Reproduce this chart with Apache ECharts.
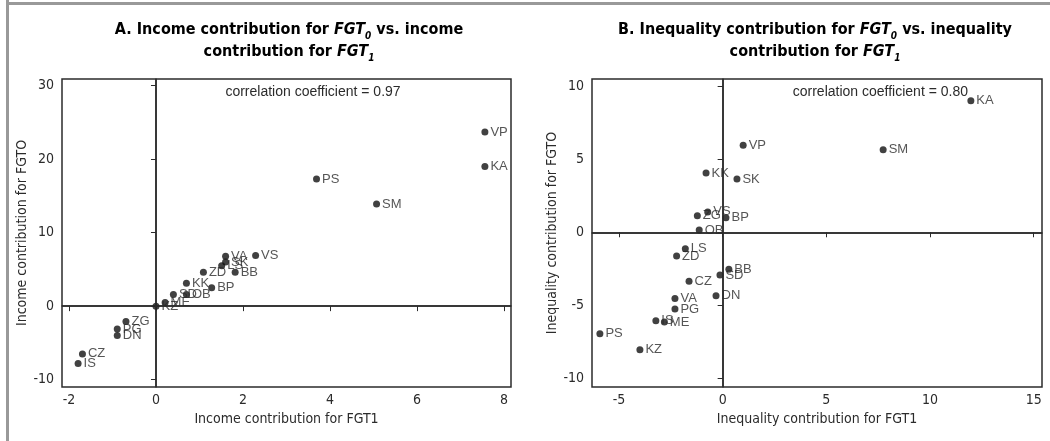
<!DOCTYPE html>
<html>
<head>
<meta charset="utf-8">
<script src="https://cdn.jsdelivr.net/npm/echarts@6/dist/echarts.min.js"></script>
<style>
  html, body { margin: 0; padding: 0; background: #fff; }
  #chart { width: 1050px; height: 441px; }
</style>
</head>
<body>
<div id="chart"></div>
<script>
// panel A: income contribution
var namesA = ['VP', 'KA', 'PS', 'SM', 'VS', 'VA', 'SK', 'LS', 'ZD', 'BB', 'KK', 'BP', 'SD', 'OB', 'ME', 'KZ', 'ZG', 'PG', 'DN', 'CZ', 'IS'];
var xA = [7.56, 7.56, 3.69, 5.07, 2.29, 1.6, 1.6, 1.51, 1.09, 1.82, 0.7, 1.28, 0.4, 0.7, 0.21, 0, -0.69, -0.89, -0.89, -1.69, -1.79];
var yA = [23.7, 19.0, 17.3, 13.9, 6.9, 6.8, 6.0, 5.5, 4.6, 4.6, 3.1, 2.5, 1.6, 1.6, 0.5, 0, -2.1, -3.1, -4.0, -6.5, -7.8];

// panel B: inequality contribution
var namesB = ['KA', 'SM', 'VP', 'KK', 'SK', 'VS', 'ZG', 'BP', 'OB', 'LS', 'ZD', 'BB', 'SD', 'CZ', 'DN', 'VA', 'PG', 'IS', 'ME', 'PS', 'KZ'];
var xB = [11.97, 7.74, 0.99, -0.8, 0.69, -0.72, -1.22, 0.16, -1.13, -1.8, -2.22, 0.3, -0.13, -1.62, -0.32, -2.3, -2.3, -3.22, -2.81, -5.92, -3.99];
var yB = [8.99, 5.64, 5.94, 4.05, 3.64, 1.39, 1.13, 1.0, 0.16, -1.12, -1.62, -2.53, -2.92, -3.35, -4.33, -4.53, -5.24, -6.04, -6.13, -6.93, -8.02];

var ticksAx = [-2, 0, 2, 4, 6, 8];
var ticksAy = [-10, 0, 10, 20, 30];
var ticksBx = [-5, 0, 5, 10, 15];
var ticksBy = [-10, -5, 0, 5, 10];

var narrow = '"Liberation Sans Narrow", "Arial Narrow", "DejaVu Sans Condensed", sans-serif';
var plain = '"Liberation Sans", Arial, sans-serif';
var ink = '#2b2b2b';

function pts(names, xs, ys) {
  return names.map(function (n, i) { return { name: n, value: [xs[i], ys[i]] }; });
}

function xAxisOf(idx, min, max, ticks, name) {
  return {
    type: 'value', gridIndex: idx, min: min, max: max,
    name: name, nameLocation: 'middle', nameGap: 21,
    nameTextStyle: { fontFamily: narrow, fontSize: 14, color: ink },
    axisLine: { show: true, lineStyle: { color: ink, width: 1.5 } },
    axisTick: { show: true, length: 5, customValues: ticks, lineStyle: { color: ink } },
    axisLabel: { customValues: ticks, fontFamily: narrow, fontSize: 14, color: ink, margin: 6 },
    splitLine: { show: false }
  };
}

function yAxisOf(idx, min, max, ticks, name) {
  return {
    type: 'value', gridIndex: idx, min: min, max: max,
    name: name, nameLocation: 'middle', nameGap: 32,
    nameTextStyle: { fontFamily: narrow, fontSize: 14, color: ink },
    axisLine: { show: true, lineStyle: { color: ink, width: 1.5 } },
    axisTick: { show: true, length: 5, customValues: ticks, lineStyle: { color: ink } },
    axisLabel: { customValues: ticks, fontFamily: narrow, fontSize: 14, color: ink, margin: 8 },
    splitLine: { show: false }
  };
}

function scatterOf(idx, data) {
  return {
    type: 'scatter', xAxisIndex: idx, yAxisIndex: idx,
    data: data, symbolSize: 7,
    itemStyle: { color: '#111' },
    label: {
      show: true, position: 'right', distance: 2,
      formatter: '{b}', fontFamily: plain, fontSize: 13, color: ink
    },
    emphasis: { disabled: true },
    markLine: {
      silent: true, symbol: 'none', animation: false,
      label: { show: false },
      lineStyle: { color: ink, width: 1.5, type: 'solid' },
      data: [{ xAxis: 0 }, { yAxis: 0 }]
    }
  };
}

var titleRich = {
  b: { fontFamily: narrow, fontWeight: 'bold', fontSize: 16, color: '#111', lineHeight: 22 },
  i: { fontFamily: narrow, fontWeight: 'bold', fontStyle: 'italic', fontSize: 16, color: '#111', lineHeight: 22 },
  s: { fontFamily: narrow, fontWeight: 'bold', fontStyle: 'italic', fontSize: 10, color: '#111', lineHeight: 22, verticalAlign: 'bottom' }
};

var chart = echarts.init(document.getElementById('chart'), null, { renderer: 'canvas' });
chart.setOption({
  animation: false,
  grid: [
    { left: 62, right: 539, top: 79, bottom: 54, show: true, borderColor: ink, borderWidth: 1.5 },
    { left: 592, right: 8, top: 79, bottom: 54, show: true, borderColor: ink, borderWidth: 1.5 }
  ],
  xAxis: [
    xAxisOf(0, -2.16, 8.16, ticksAx, 'Income contribution for FGT1'),
    xAxisOf(1, -6.3, 15.4, ticksBx, 'Inequality contribution for FGT1')
  ],
  yAxis: [
    yAxisOf(0, -11.0, 30.9, ticksAy, 'Income contribution for FGTO'),
    yAxisOf(1, -10.57, 10.47, ticksBy, 'Inequality contribution for FGTO')
  ],
  series: [
    scatterOf(0, pts(namesA, xA, yA)),
    scatterOf(1, pts(namesB, xB, yB))
  ],
  graphic: [
    // grey frame
    { type: 'rect', shape: { x: 6, y: 0, width: 3, height: 441 }, style: { fill: '#999' } },
    { type: 'rect', shape: { x: 9, y: 2, width: 1041, height: 3 }, style: { fill: '#999' } },
    {
      type: 'text', x: 289, y: 19,
      style: {
        text: '{b|A. Income contribution for }{i|FGT}{s|0}{b| vs. income}\n{b|contribution for }{i|FGT}{s|1}',
        rich: titleRich, align: 'center'
      }
    },
    {
      type: 'text', x: 815, y: 19,
      style: {
        text: '{b|B. Inequality contribution for }{i|FGT}{s|0}{b| vs. inequality}\n{b|contribution for }{i|FGT}{s|1}',
        rich: titleRich, align: 'center'
      }
    },
    {
      type: 'text', x: 313, y: 92,
      style: { text: 'correlation coefficient = 0.97', fontFamily: plain, fontSize: 14, fill: ink, align: 'center', verticalAlign: 'middle' }
    },
    {
      type: 'text', x: 968, y: 92,
      style: { text: 'correlation coefficient = 0.80', fontFamily: plain, fontSize: 14, fill: ink, align: 'right', verticalAlign: 'middle' }
    }
  ]
});
</script>
</body>
</html>
